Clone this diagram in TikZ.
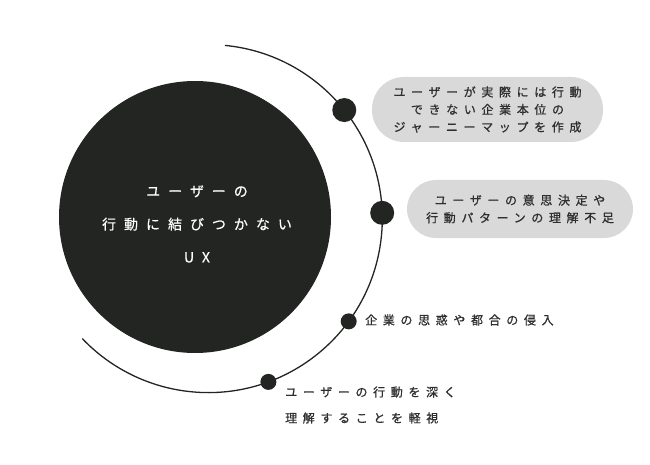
\documentclass[tikz,border=0pt]{standalone}
\usepackage{fontspec}
\usetikzlibrary{calc}
\newfontfamily\jp[LetterSpace=47,FakeBold=0.8]{Noto Sans CJK JP}
\newfontfamily\jpw[LetterSpace=57,FakeBold=0.5]{Noto Sans CJK JP}
\definecolor{ink}{HTML}{222522}
\definecolor{pillgray}{HTML}{D9D9D9}
\definecolor{txt}{HTML}{2E2E2E}
\tikzset{
  maincircle/.style={circle, fill=ink, minimum size=272pt, inner sep=0pt},
  bigdot/.style={circle, fill=ink, minimum size=24pt, inner sep=0pt},
  smalldot/.style={circle, fill=ink, minimum size=16pt, inner sep=0pt},
  pill/.style={rectangle, fill=pillgray, rounded corners=29pt, inner sep=0pt, align=center, text=txt, font=\jp\fontsize{12}{17.5}\selectfont},
  label/.style={inner sep=0pt, anchor=west, text=txt, font=\jp\fontsize{12}{26}\selectfont, align=left},
  orbit/.style={draw=ink, line width=1.3pt},
  centertext/.style={text=white, font=\jpw\fontsize{14}{33}\selectfont, align=center, inner sep=0pt}
}
\begin{document}
\begin{tikzpicture}[x=1pt,y=1pt]
\useasboundingbox (0,0) rectangle (650,464);
\coordinate (arcc) at (208.3,245.4);
\node[maincircle] (main) at (195,247) {};
\draw[orbit] ($(arcc)+(84.5:174pt)$) arc[start angle=84.5, end angle=-136.4, radius=174pt];
\node[bigdot] (d1) at ($(arcc)+(38.6:174pt)$) {};
\node[bigdot] (d2) at ($(arcc)+(1.9:174pt)$) {};
\node[smalldot] (d3) at ($(arcc)+(-36.2:174pt)$) {};
\node[smalldot] (d4) at ($(arcc)+(-69.8:174pt)$) {};
\node[centertext] (title) at (197,240) {ユーザーの\\行動に結びつかない\\UX};
\node[pill, minimum width=231pt, minimum height=65pt, rounded corners=32pt] (p1) at (487.5,354.5) {ユーザーが実際には行動\\できない企業本位の\\ジャーニーマップを作成};
\node[pill, minimum width=226pt, minimum height=58pt] (p2) at (520,255) {ユーザーの意思決定や\\行動パターンの理解不足};
\node[label] (t3) at (365,144) {企業の思惑や都合の侵入};
\node[label] (t4) at (285,59) {ユーザーの行動を深く\\理解することを軽視};
\end{tikzpicture}
\end{document}
